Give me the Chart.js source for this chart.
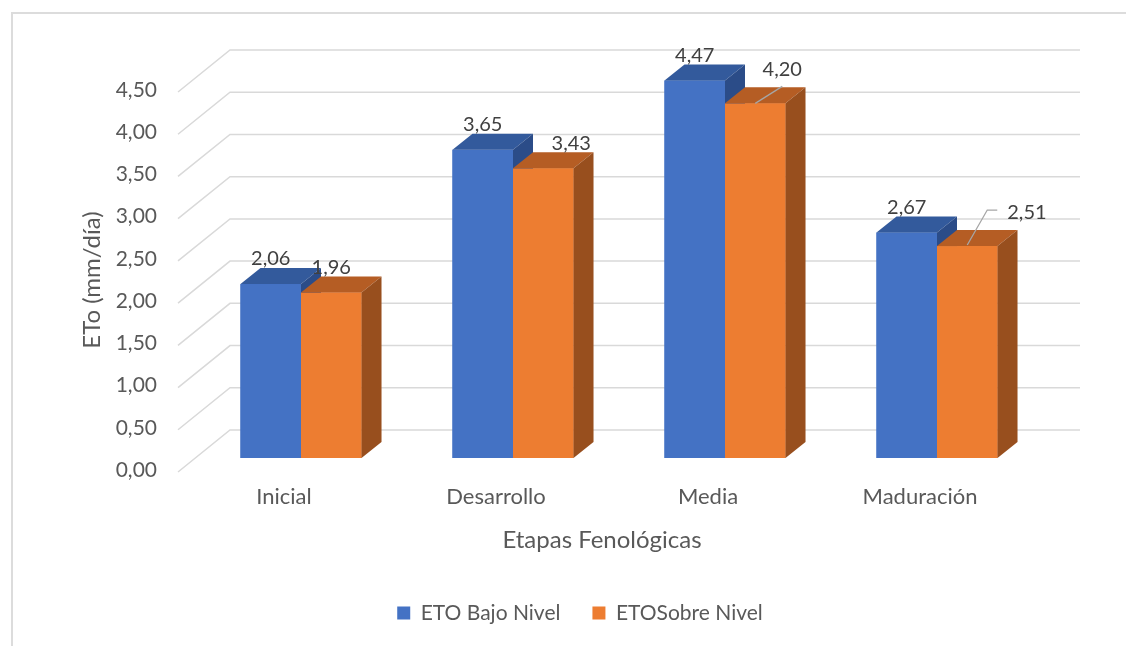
<!DOCTYPE html>
<html>
<head>
<meta charset="utf-8">
<script src="https://cdn.jsdelivr.net/npm/chart.js@4.4.1/dist/chart.umd.min.js"></script>
<style>
    html, body { margin: 0; padding: 0; background: #fff; overflow: hidden; }
    #frame { position: absolute; left: 11px; top: 12px; width: 1200px; height: 700px; border-left: 2px solid #dcdcdc; border-top: 2px solid #dcdcdc; }
    #wrap { position: absolute; left: 12px; top: 13px; width: 1136px; height: 633px; }
</style>
</head>
<body>
<div id="frame"></div>
<div id="wrap"><canvas id="chart" width="1136" height="633"></canvas></div>
<script>
const etapas = ['Inicial', 'Desarrollo', 'Media', 'Maduración'];
const etoBajoNivel = [2.06, 3.65, 4.47, 2.67];
const etoSobreNivel = [1.96, 3.43, 4.20, 2.51];
const ejeY = [0, 0.5, 1, 1.5, 2, 2.5, 3, 3.5, 4, 4.5];

const fontFamily = 'Lato, "Noto Sans", sans-serif';
const textColor = '#595959';
const fmt = v => v.toFixed(2).replace('.', ',');

// 3d look: bar depth, wall depth
const depth = {dx: 20, dy: -16};
const wallBack = {dx: 35, dy: -28};
const wallFront = {dx: -17, dy: 14};

const colores = [
    {front: '#4472C4', top: '#335A9C', side: '#2B4C88'},
    {front: '#ED7D31', top: '#B55D24', side: '#984F1E'},
];

// manual label moves (like dragged labels in excel), key = dataset-index
const labelMoves = {
    '1-1': {dx: 28, dy: -25},
    '1-2': {dx: 27, dy: -34, leader: [[0, 0], [27, -17]]},
    '1-3': {dx: 40, dy: -33, align: 'left', leader: [[0, -1], [20, -36], [30, -36]]},
};

const legendSize = 21;

const bars3d = {
    id: 'bars3d',
    beforeDatasetsDraw(chart) {
        const {ctx, chartArea, scales: {y}} = chart;
        ctx.save();
        ctx.strokeStyle = '#d9d9d9';
        ctx.lineWidth = 1.5;
        ejeY.forEach(v => {
            const py = y.getPixelForValue(v);
            ctx.beginPath();
            ctx.moveTo(chartArea.left + wallFront.dx, py + wallFront.dy);
            ctx.lineTo(chartArea.left + wallBack.dx, py + wallBack.dy);
            ctx.lineTo(chartArea.right + wallBack.dx + 2, py + wallBack.dy);
            ctx.stroke();
        });
        ctx.restore();
    },
    afterDatasetsDraw(chart) {
        const {ctx} = chart;
        ctx.save();
        for (let i = 0; i < etapas.length; i++) {
            chart.data.datasets.forEach((ds, d) => {
                const bar = chart.getDatasetMeta(d).data[i];
                const l = bar.x - bar.width / 2, r = bar.x + bar.width / 2;
                const t = bar.y, b = bar.base;
                const c = colores[d];
                ctx.fillStyle = c.front;
                ctx.fillRect(l, t, r - l, b - t);
                ctx.fillStyle = c.top;
                ctx.beginPath();
                ctx.moveTo(l, t);
                ctx.lineTo(r, t);
                ctx.lineTo(r + depth.dx, t + depth.dy);
                ctx.lineTo(l + depth.dx, t + depth.dy);
                ctx.closePath();
                ctx.fill();
                ctx.fillStyle = c.side;
                ctx.beginPath();
                ctx.moveTo(r, t);
                ctx.lineTo(r + depth.dx, t + depth.dy);
                ctx.lineTo(r + depth.dx, b + depth.dy);
                ctx.lineTo(r, b);
                ctx.closePath();
                ctx.fill();
            });
        }

        // data labels
        ctx.font = '20px ' + fontFamily;
        ctx.fillStyle = '#404040';
        ctx.textBaseline = 'middle';
        chart.data.datasets.forEach((ds, d) => {
            chart.getDatasetMeta(d).data.forEach((bar, i) => {
                const mv = labelMoves[d + '-' + i] || {dx: 0, dy: -25};
                if (mv.leader) {
                    ctx.strokeStyle = '#a6a6a6';
                    ctx.lineWidth = 1.3;
                    ctx.beginPath();
                    mv.leader.forEach((p, k) => {
                        if (k === 0) ctx.moveTo(bar.x + p[0], bar.y + p[1]);
                        else ctx.lineTo(bar.x + p[0], bar.y + p[1]);
                    });
                    ctx.stroke();
                }
                ctx.textAlign = mv.align || 'center';
                ctx.fillText(fmt(ds.data[i]), bar.x + mv.dx, bar.y + mv.dy);
            });
        });

        // axis titles
        const {chartArea} = chart;
        ctx.fillStyle = textColor;
        ctx.font = '24px ' + fontFamily;
        ctx.textAlign = 'center';
        ctx.fillText('Etapas Fenológicas', (chartArea.left + chartArea.right) / 2 + wallFront.dx, 527);
        ctx.translate(80, 267);
        ctx.rotate(-Math.PI / 2);
        ctx.fillText('ETo (mm/día)', 0, 0);
        ctx.restore();
    }
};

const data = {
    labels: etapas,
    datasets: [
        {label: 'ETO Bajo Nivel', data: etoBajoNivel, backgroundColor: colores[0].front},
        {label: 'ETOSobre Nivel', data: etoSobreNivel, backgroundColor: colores[1].front},
    ]
};

const config = {
    type: 'bar',
    data: data,
    options: {
        responsive: false,
        animation: false,
        categoryPercentage: 0.571,
        barPercentage: 1.0,
        layout: {padding: {top: 65, bottom: 23 - legendSize / 2, left: 0, right: 0}},
        plugins: {
            tooltip: {enabled: false},
            legend: {
                position: 'bottom',
                labels: {
                    boxWidth: 13,
                    boxHeight: 13,
                    padding: 32,
                    color: textColor,
                    font: {family: fontFamily, size: legendSize},
                }
            }
        },
        scales: {
            x: {
                grid: {display: false},
                border: {display: false},
                ticks: {
                    color: textColor,
                    font: {family: fontFamily, size: 22},
                    padding: 18,
                    labelOffset: wallFront.dx,
                },
                afterFit: s => { s.height = 123 - legendSize / 2; },
            },
            y: {
                min: 0,
                max: 4.5,
                grid: {display: false, drawTicks: false},
                border: {display: false},
                ticks: {
                    stepSize: 0.5,
                    color: textColor,
                    font: {family: fontFamily, size: 21},
                    padding: 38,
                    labelOffset: 12,
                    callback: v => fmt(v),
                },
                afterFit: s => { s.width = 183; },
            },
            yR: {
                position: 'right',
                grid: {display: false},
                border: {display: false},
                ticks: {display: false},
                afterFit: s => { s.width = 105; },
            }
        }
    },
    plugins: [bars3d]
};

new Chart(document.getElementById('chart'), config);
</script>
</body>
</html>
